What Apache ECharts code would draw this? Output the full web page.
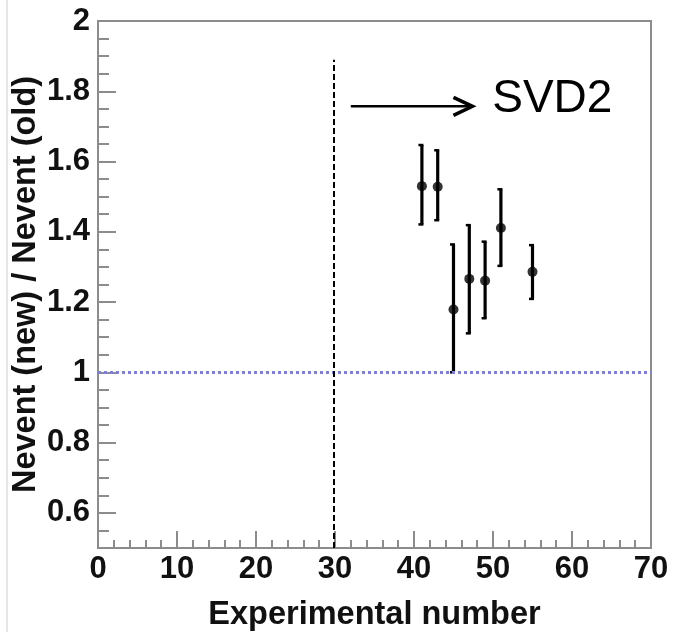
<!DOCTYPE html>
<html>
<head>
<meta charset="utf-8">
<script src="https://cdn.jsdelivr.net/npm/echarts@6/dist/echarts.min.js"></script>
<style>
html,body{margin:0;padding:0;background:#fff;}
#chart{width:673px;height:632px;}
</style>
</head>
<body>
<div id="chart"></div>
<script>
// ---- data ----
const expNumbers = [41, 43, 45, 47, 49, 51, 55];
const ratio      = [1.530, 1.528, 1.179, 1.266, 1.261, 1.411, 1.286];
const errLow     = [1.421, 1.433, 1.000, 1.111, 1.154, 1.303, 1.209];
const errHigh    = [1.647, 1.632, 1.364, 1.419, 1.372, 1.521, 1.362];

const xTicks = [0, 10, 20, 30, 40, 50, 60, 70];
const yTickLabels = [0.6, 0.8, 1.0, 1.2, 1.4, 1.6, 1.8, 2.0];

const refLineY = [1];               // horizontal dotted reference
const svdBoundary = [29.8, 0.5, 1.89]; // x, yFrom, yTo of dashed line
const arrowSpec = [32.0, 47.4, 1.757]; // xFrom, xTo, y
const labelSpec = [49.9, 1.777, 'SVD2']; // x, y, text

const gray = '#8c8c8c';
const font = 'Liberation Sans, Arial, sans-serif';

const chart = echarts.init(document.getElementById('chart'));
chart.setOption({
  animation: false,
  backgroundColor: '#fff',
  graphic: [{
    type: 'line', shape: {x1: 7, y1: 0, x2: 7, y2: 632},
    style: {stroke: '#e6e6e6', lineWidth: 2}, silent: true
  }],
  grid: {
    left: 98, right: 22, top: 21, bottom: 84,
    outerBoundsMode: 'none', containLabel: false,
    show: true, borderColor: gray, borderWidth: 2, backgroundColor: '#fff'
  },
  xAxis: {
    type: 'value', min: xTicks[0], max: xTicks[xTicks.length - 1], interval: 10,
    axisLine: {show: true, lineStyle: {color: gray, width: 2}},
    axisTick: {show: true, inside: true, length: 17, lineStyle: {color: gray, width: 2}},
    minorTick: {show: true, splitNumber: 5, length: 8, lineStyle: {color: gray, width: 2}},
    splitLine: {show: false},
    axisLabel: {fontSize: 31, fontWeight: 'bold', color: '#111', fontFamily: font, margin: 6},
    name: 'Experimental number', nameLocation: 'middle', nameGap: 51, nameMoveOverlap: false,
    nameTextStyle: {fontSize: 32.5, fontWeight: 'bold', color: '#111', fontFamily: font}
  },
  yAxis: [{
    type: 'value', min: 0.5, max: 2, interval: 0.05,
    axisLine: {show: true, lineStyle: {color: gray, width: 2}},
    axisTick: {show: true, inside: true, length: 11, lineStyle: {color: gray, width: 2}},
    splitLine: {show: false},
    axisLabel: {
      customValues: yTickLabels,
      fontSize: 31, fontWeight: 'bold', color: '#111', fontFamily: font, margin: 8,
      formatter: v => (Math.abs(v - 1) < 1e-9 || Math.abs(v - 2) < 1e-9) ? String(Math.round(v)) : v.toFixed(1)
    },
    name: 'Nevent (new) / Nevent (old)', nameLocation: 'middle', nameGap: 55, nameMoveOverlap: false,
    nameTextStyle: {fontSize: 32.5, fontWeight: 'bold', color: '#111', fontFamily: font}
  }, {
    type: 'value', min: 0.5, max: 2, interval: 0.05, position: 'left',
    axisLine: {show: false},
    axisTick: {show: true, inside: true, length: 18, customValues: yTickLabels, lineStyle: {color: gray, width: 2}},
    axisLabel: {show: false},
    splitLine: {show: false}
  }],
  series: [
    {
      type: 'custom',
      name: 'errors',
      data: expNumbers.map((x, i) => [x, errLow[i], errHigh[i]]),
      encode: {x: 0, y: [1, 2]},
      renderItem: function (params, api) {
        const x = api.value(0);
        const lo = api.coord([x, api.value(1)]);
        const hi = api.coord([x, api.value(2)]);
        const st = {stroke: '#000', lineWidth: 3.2};
        return {type: 'group', children: [
          {type: 'line', shape: {x1: hi[0], y1: hi[1], x2: lo[0], y2: lo[1]}, style: st},
          {type: 'line', shape: {x1: hi[0] - 3.5, y1: hi[1], x2: hi[0] + 1.5, y2: hi[1]}, style: {stroke: '#000', lineWidth: 2.5}},
          {type: 'line', shape: {x1: lo[0] - 3.5, y1: lo[1], x2: lo[0] + 1.5, y2: lo[1]}, style: {stroke: '#000', lineWidth: 2.5}}
        ]};
      },
      z: 3
    },
    {
      type: 'scatter',
      data: expNumbers.map((x, i) => [x, ratio[i]]),
      symbol: 'circle', symbolSize: 10,
      itemStyle: {color: '#000'},
      z: 4,
      markLine: {
        silent: true, symbol: ['none', 'none'], label: {show: false},
        data: [
          [{coord: [xTicks[0], refLineY[0]], lineStyle: {color: '#7f7fd8', width: 3, type: [3, 3]}},
           {coord: [xTicks[xTicks.length - 1], refLineY[0]]}],
          [{coord: [svdBoundary[0], svdBoundary[1]], lineStyle: {color: '#000', width: 2, type: [6, 3]}},
           {coord: [svdBoundary[0], svdBoundary[2]]}]
        ]
      }
    },
    {
      type: 'custom',
      name: 'annotation',
      data: [[arrowSpec[0], arrowSpec[1], arrowSpec[2], labelSpec[0], labelSpec[1]]],
      renderItem: function (params, api) {
        const a = api.coord([api.value(0), api.value(2)]);
        const b = api.coord([api.value(1), api.value(2)]);
        const t = api.coord([api.value(3), api.value(4)]);
        return {type: 'group', children: [
          {type: 'line', shape: {x1: a[0], y1: a[1], x2: b[0], y2: b[1]}, style: {stroke: '#000', lineWidth: 2.5}},
          {type: 'polyline', shape: {points: [[b[0] - 19, b[1] - 9], [b[0], b[1]], [b[0] - 19, b[1] + 9]]},
           style: {stroke: '#000', lineWidth: 3.5, fill: null}},
          {type: 'text', x: t[0], y: t[1],
           style: {text: labelSpec[2], fontSize: 46, fontFamily: font, fill: '#000',
                   align: 'left', verticalAlign: 'middle'}}
        ]};
      },
      z: 5
    }
  ]
});
</script>
</body>
</html>
